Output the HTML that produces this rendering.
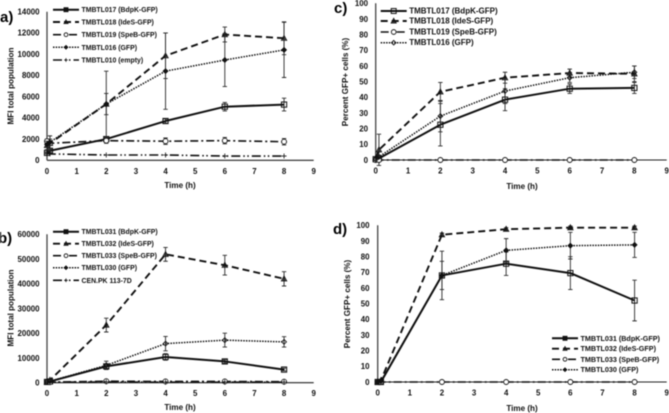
<!DOCTYPE html>
<html lang="en">
<head>
<meta charset="utf-8">
<title>GFP expression time courses</title>
<style>
html,body{margin:0;padding:0;background:#fff;width:669px;height:413px;overflow:hidden}
svg{display:block;filter:blur(0.4px)}
text{font-family:"Liberation Sans",sans-serif;fill:#111;font-weight:bold}
.tick{font-size:7.9px}
.title{font-size:8.1px}
.letter{font-size:15px;fill:#000}
</style>
</head>
<body>
<svg id="figure" xmlns="http://www.w3.org/2000/svg" width="669" height="413" viewBox="0 0 669 413">
  <text class="letter" x="0" y="22">a)</text>
  <text class="letter" x="334" y="13">c)</text>
  <text class="letter" x="-2" y="243">b)</text>
  <text class="letter" x="333" y="234">d)</text>
  <text class="title" x="180" y="188" text-anchor="middle">Time (h)</text>
  <text class="title" x="522" y="189" text-anchor="middle">Time (h)</text>
  <text class="title" x="180" y="410" text-anchor="middle">Time (h)</text>
  <text class="title" x="522" y="411" text-anchor="middle">Time (h)</text>
  <text class="title" text-anchor="middle" transform="translate(13.5 86) rotate(-90)">MFI total population</text>
  <text class="title" text-anchor="middle" transform="translate(348 82) rotate(-90)">Percent GFP+ cells (%)</text>
  <text class="title" text-anchor="middle" transform="translate(13.5 308) rotate(-90)">MFI total population</text>
  <text class="title" text-anchor="middle" transform="translate(350 304) rotate(-90)">Percent GFP+ cells (%)</text>
</svg>
<script>
// Shared sampling times and tick labels
const times = [0, 0.1, 2, 4, 6, 8];
const xTicks = [0, 1, 2, 3, 4, 5, 6, 7, 8, 9];
const mfiTicksA = [0, 2000, 4000, 6000, 8000, 10000, 12000, 14000];
const mfiTicksB = [0, 10000, 20000, 30000, 40000, 50000, 60000];
const pctTicks = [0, 10, 20, 30, 40, 50, 60, 70, 80, 90, 100];

// Panel a values
const aBdpk = [700, 900, 2000, 3700, 5050, 5250];
const aBdpkErr = [100, 150, 150, 200, 400, 600];
const aIdes = [1400, 1600, 5300, 9850, 11850, 11500];
const aIdesErr = [400, 700, 3100, 2150, 700, 1550];
const aSpeb = [1800, 1600, 1850, 1800, 1850, 1750];
const aSpebErr = [200, 200, 250, 300, 300, 300];
const aGfp = [1500, 1700, 5300, 8400, 9450, 10400];
const aGfpErr = [300, 300, 1000, 3600, 2500, 2600];
const aEmpty = [700, 600, 500, 500, 400, 400];
const aNames = ['TMBTL017 (BdpK-GFP)', 'TMBTL018 (IdeS-GFP)', 'TMBTL019 (SpeB-GFP)', 'TMBTL016 (GFP)', 'TMBTL010 (empty)'];

// Panel b values
const bBdpk = [300, 500, 6600, 10400, 8600, 5300];
const bBdpkErr = [100, 100, 800, 1300, 700, 500];
const bIdes = [300, 1000, 23300, 51900, 47500, 42000];
const bIdesErr = [100, 300, 2800, 2800, 4000, 2900];
const bSpeb = [300, 200, 600, 500, 500, 400];
const bSpebErr = [50, 50, 100, 100, 100, 100];
const bGfp = [300, 600, 7000, 15800, 17200, 16500];
const bGfpErr = [100, 100, 1700, 2900, 2800, 2100];
const bCen = [200, 200, 300, 200, 200, 200];
const bNames = ['TMBTL031 (BdpK-GFP)', 'TMBTL032 (IdeS-GFP)', 'TMBTL033 (SpeB-GFP)', 'TMBTL030 (GFP)', 'CEN.PK 113-7D'];

// Panel c values
const cBdpk = [0.5, 1, 22.5, 38.5, 45.5, 46];
const cBdpkErr = [0.5, 1, 13.5, 7, 3, 3.5];
const cIdes = [1, 6.5, 43.5, 52.5, 55.5, 55];
const cIdesErr = [1, 10, 6, 3.5, 2.5, 5];
const cSpeb = [0, 0, 0, 0, 0, 0];
const cSpebErr = [0, 0, 0, 0, 0, 0];
const cGfp = [0.5, 2, 28, 44, 52.5, 56];
const cGfpErr = [0.5, 1, 10, 8, 3, 4];
const cNames = ['TMBTL017 (BdpK-GFP)', 'TMBTL018 (IdeS-GFP)', 'TMBTL019 (SpeB-GFP)', 'TMBTL016 (GFP)'];

// Panel d values
const dBdpk = [0, 0, 68, 75.5, 69.5, 52];
const dBdpkErr = [0, 0, 15.5, 7.5, 10.5, 13];
const dIdes = [0, 1, 94, 97.5, 98.5, 98.5];
const dIdesErr = [0, 0, 1, 1, 1, 1];
const dSpeb = [0, 0, 0, 0, 0, 0];
const dSpebErr = [0, 0, 0, 0, 0, 0];
const dGfp = [0, 0.5, 68, 84, 87, 87.5];
const dGfpErr = [0, 0, 9, 7.5, 8.5, 8];
const dNames = ['TMBTL031 (BdpK-GFP)', 'TMBTL032 (IdeS-GFP)', 'TMBTL033 (SpeB-GFP)', 'TMBTL030 (GFP)'];

const svg = document.getElementById('figure');
const NS = 'http://www.w3.org/2000/svg';
const INK = '#111';
const styles = {
  bdpk: {dash: '', width: 2, marker: 'square'},
  ides: {dash: '7 4', width: 1.9, marker: 'triangle'},
  speb: {dash: '8 3 2 3', width: 1.6, marker: 'circle'},
  gfp: {dash: '1.5 1.2', width: 1.5, marker: 'diamond'},
  control: {dash: '9 3 1.5 2.5 1.5 3', width: 1.6, marker: 'plus'}
};

function make(tag, attrs, parent) {
  const el = document.createElementNS(NS, tag);
  for (const k in attrs) el.setAttribute(k, attrs[k]);
  parent.appendChild(el);
  return el;
}

function drawMarker(kind, x, y, parent, scale, filled) {
  const s = scale || 1;
  const fill = filled ? INK : 'none';
  let el;
  if (kind === 'square') {
    el = make('rect', {x: x - 2.6 * s, y: y - 2.6 * s, width: 5.2 * s, height: 5.2 * s, fill: fill, stroke: INK, 'stroke-width': 1}, parent);
  } else if (kind === 'triangle') {
    el = make('path', {d: `M${x} ${y - 3 * s}L${x + 2.8 * s} ${y + 2.2 * s}L${x - 2.8 * s} ${y + 2.2 * s}Z`, fill: INK, 'fill-opacity': 0.75, stroke: INK, 'stroke-width': 0.7}, parent);
  } else if (kind === 'circle') {
    el = make('circle', {cx: x, cy: y, r: 2.5 * s, fill: 'white', stroke: INK, 'stroke-width': 0.9}, parent);
  } else if (kind === 'diamond') {
    el = make('path', {d: `M${x} ${y - 2.4 * s}L${x + 2.4 * s} ${y}L${x} ${y + 2.4 * s}L${x - 2.4 * s} ${y}Z`, fill: fill, stroke: INK, 'stroke-width': 0.9}, parent);
  } else {
    el = make('path', {d: `M${x - 2.5 * s} ${y}H${x + 2.5 * s}M${x} ${y - 2.5 * s}V${y + 2.5 * s}`, fill: 'none', stroke: INK, 'stroke-width': 0.8}, parent);
  }
  
  
}

function drawPanel(panel) {
  const g = make('g', {}, svg);
  
  
  const sx = v => panel.x0 + (v / 9) * (panel.x1 - panel.x0);
  const sy = v => panel.y0 - (v / panel.yMax) * (panel.y0 - panel.y1);

  const xAxis = make('line', {x1: sx(0), x2: panel.x1, y1: panel.y0, y2: panel.y0, stroke: '#222', 'stroke-width': 1.1}, g);
  
  
  const yAxis = make('line', {x1: sx(0), x2: sx(0), y1: panel.y0, y2: panel.y1, stroke: '#444', 'stroke-width': 1.3}, g);
  
  

  xTicks.forEach(t => {
    const label = make('text', {class: 'tick', x: sx(t), y: panel.y0 + 13.5, 'text-anchor': 'middle'}, g);
    label.textContent = t;
    
    
  });
  panel.yTicks.forEach(t => {
    const label = make('text', {class: 'tick', x: panel.yLabelX, y: sy(t) + 2.8, 'text-anchor': 'end'}, g);
    label.textContent = t;
    
    
  });

  panel.series.forEach(s => {
    const st = styles[s.style];
    const sg = make('g', {}, g);
    
    
    if (s.err) {
      s.err.forEach((e, i) => {
        if (!e) return;
        const x = sx(times[i]);
        const top = sy(s.values[i] + e);
        const bot = sy(s.values[i] - e);
        const bar = make('path', {d: `M${x} ${top}V${bot}M${x - 2.2} ${top}H${x + 2.2}M${x - 2.2} ${bot}H${x + 2.2}`, fill: 'none', stroke: '#2a2a2a', 'stroke-width': 0.9}, sg);
        
        
      });
    }
    const pts = s.values.map((v, i) => sx(times[i]) + ',' + sy(v)).join(' ');
    const line = make('polyline', {points: pts, fill: 'none', stroke: INK, 'stroke-width': st.width, 'stroke-dasharray': st.dash, 'stroke-linejoin': 'round'}, sg);
    
    
    s.values.forEach((v, i) => drawMarker(st.marker, sx(times[i]), sy(v), sg, 1, panel.diamondFilled && st.marker === 'diamond'));
  });

  const lg = make('g', {}, g);
  
  
  panel.series.forEach((s, i) => {
    const st = styles[s.style];
    const y = panel.legendRows[i];
    const sample = make('line', {x1: panel.legendX, x2: panel.legendX + 26, y1: y, y2: y, stroke: INK, 'stroke-width': st.width, 'stroke-dasharray': st.dash}, lg);
    
    
    drawMarker(st.marker, panel.legendX + 13, y, lg, panel.legendScale, panel.legendFilled);
    const label = make('text', {x: panel.legendX + 28.5, y: y + 2.5, 'font-size': panel.legendFont}, lg);
    label.textContent = panel.names[i];
    
    
  });
}

drawPanel({
  id: 'a', x0: 47, x1: 313.7, y0: 160.3, y1: 11.7, yMax: 14000, yTicks: mfiTicksA, yLabelX: 39.5,
  names: aNames, legendX: 53, legendRows: [9.7, 22, 34.7, 47.3, 60], legendFont: 6.9, legendScale: 0.75, legendFilled: true, diamondFilled: true,
  series: [
    {style: 'bdpk', values: aBdpk, err: aBdpkErr},
    {style: 'ides', values: aIdes, err: aIdesErr},
    {style: 'speb', values: aSpeb, err: aSpebErr},
    {style: 'gfp', values: aGfp, err: aGfpErr},
    {style: 'control', values: aEmpty}
  ]
});
drawPanel({
  id: 'b', x0: 47, x1: 313.7, y0: 382.7, y1: 234.3, yMax: 60000, yTicks: mfiTicksB, yLabelX: 39.5,
  names: bNames, legendX: 53, legendRows: [231.7, 243.7, 255.7, 267.7, 280.3], legendFont: 6.9, legendScale: 0.75, legendFilled: true, diamondFilled: false,
  series: [
    {style: 'bdpk', values: bBdpk, err: bBdpkErr},
    {style: 'ides', values: bIdes, err: bIdesErr},
    {style: 'speb', values: bSpeb, err: bSpebErr},
    {style: 'gfp', values: bGfp, err: bGfpErr},
    {style: 'control', values: bCen}
  ]
});
drawPanel({
  id: 'c', x0: 375.7, x1: 666.7, y0: 160, y1: 3.3, yMax: 100, yTicks: pctTicks, yLabelX: 368,
  names: cNames, legendX: 380.7, legendRows: [11, 21, 32, 42.7], legendFont: 8, legendScale: 0.95, legendFilled: false, diamondFilled: false,
  series: [
    {style: 'bdpk', values: cBdpk, err: cBdpkErr},
    {style: 'ides', values: cIdes, err: cIdesErr},
    {style: 'speb', values: cSpeb, err: cSpebErr},
    {style: 'gfp', values: cGfp, err: cGfpErr}
  ]
});
drawPanel({
  id: 'd', x0: 377.7, x1: 666.7, y0: 382, y1: 225.3, yMax: 100, yTicks: pctTicks, yLabelX: 369.5,
  names: dNames, legendX: 552, legendRows: [338.3, 348.7, 359.3, 369.7], legendFont: 7.2, legendScale: 0.75, legendFilled: true, diamondFilled: true,
  series: [
    {style: 'bdpk', values: dBdpk, err: dBdpkErr},
    {style: 'ides', values: dIdes, err: dIdesErr},
    {style: 'speb', values: dSpeb, err: dSpebErr},
    {style: 'gfp', values: dGfp, err: dGfpErr}
  ]
});
</script>
</body>
</html>
